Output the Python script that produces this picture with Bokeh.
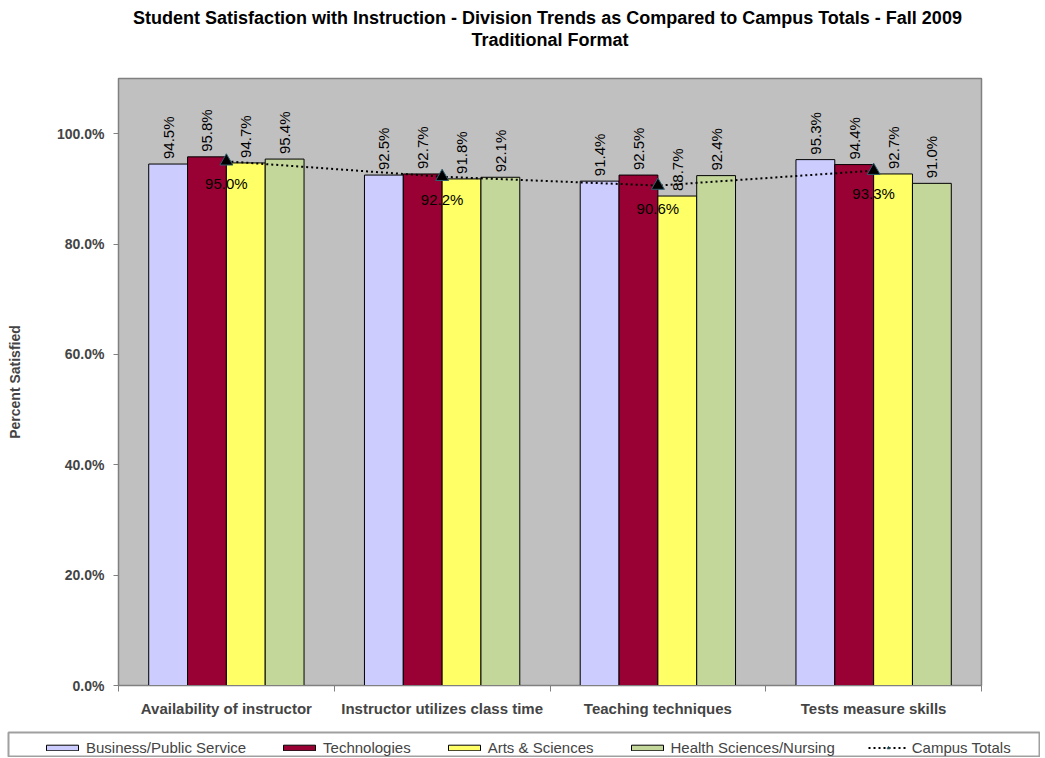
import math
from bokeh.plotting import figure
from bokeh.layouts import column
from bokeh.models import (ColumnDataSource, Range1d, FixedTicker, PrintfTickFormatter,
                          LabelSet, Label, Legend, LegendItem)
from bokeh.core.properties import value
from bokeh.embed import file_html
from bokeh.resources import INLINE

# ---------------- data ----------------
categories = ["Availability of instructor", "Instructor utilizes class time",
              "Teaching techniques", "Tests measure skills"]
series_names = ["Business/Public Service", "Technologies", "Arts & Sciences",
                "Health Sciences/Nursing"]
business = [94.5, 92.5, 91.4, 95.3]
technologies = [95.8, 92.7, 92.5, 94.4]
arts = [94.7, 91.8, 88.7, 92.7]
health = [95.4, 92.1, 92.4, 91.0]
campus = [95.0, 92.2, 90.6, 93.3]
campus_name = "Campus Totals"
y_ticks = [0, 20, 40, 60, 80, 100]
colors = ["#CCCCFF", "#990033", "#FFFF66", "#C4D79B"]
title_line1 = ("Student Satisfaction with Instruction - Division Trends  as Compared to "
               "Campus Totals - Fall 2009")
title_line2 = "Traditional Format"

FONT = "Liberation Sans"
W = 1040

# ---------------- title strip ----------------
ft = figure(width=W, height=60, x_range=Range1d(0, 1), y_range=Range1d(0, 1),
            output_backend="svg", toolbar_location=None, title=None,
            x_axis_location=None, y_axis_location=None, min_border=0)
ft.frame_align = False
ft.outline_line_color = None
ft.background_fill_color = "white"
ft.border_fill_color = "white"
ft.xgrid.visible = False
ft.ygrid.visible = False
for txt, yy in [(title_line1, 43), (title_line2, 21)]:
    ft.add_layout(Label(x=549.5, y=yy, x_units="screen", y_units="screen", text=txt,
                        text_align="center", text_baseline="middle", text_font=FONT,
                        text_font_size="18px", text_font_style="bold", text_color="black"))

# ---------------- main chart ----------------
p = figure(width=W, height=665, x_range=Range1d(0, 4), y_range=Range1d(0, 110),
           output_backend="svg", toolbar_location=None, title=None,
           min_border_left=118, min_border_right=59, min_border_top=18, min_border_bottom=40)
p.frame_align = False

p.background_fill_color = "#C0C0C0"
p.border_fill_color = "white"
p.outline_line_color = "#808080"
p.outline_line_width = 1.5
p.xgrid.visible = False
p.ygrid.visible = False

centers = [i + 0.5 for i in range(len(categories))]
all_series = [business, technologies, arts, health]
offsets = [-0.27, -0.09, 0.09, 0.27]
bar_w = 0.18

sources = []
for vals, col, off in zip(all_series, colors, offsets):
    src = ColumnDataSource(dict(x=[c + off for c in centers], top=vals,
                                lab=["%.1f%%" % v for v in vals]))
    p.vbar(x="x", top="top", width=bar_w, source=src, fill_color=col,
           line_color="black", line_width=1)
    sources.append(src)

for src in sources:
    p.add_layout(LabelSet(x="x", y="top", text="lab", source=src, angle=math.pi / 2,
                          text_align="left", text_baseline="middle", y_offset=5,
                          text_font=value(FONT), text_font_size="15px", text_color="black"))

csrc = ColumnDataSource(dict(x=centers, y=campus, lab=["%.1f%%" % v for v in campus]))
p.line("x", "y", source=csrc, line_color="black", line_width=2, line_dash="2 3")
p.scatter("x", "y", source=csrc, marker="triangle", size=13, fill_color="black",
          line_color="#2F5F6F", line_width=1)
p.add_layout(LabelSet(x="x", y="y", text="lab", source=csrc, text_align="center",
                      text_baseline="top", y_offset=-14, text_font=value(FONT),
                      text_font_size="15px", text_color="black"))

# y axis
p.yaxis.ticker = FixedTicker(ticks=y_ticks)
p.yaxis.formatter = PrintfTickFormatter(format="%.1f%%")
p.yaxis.axis_label = "Percent Satisfied"
p.yaxis.axis_label_text_font = FONT
p.yaxis.axis_label_text_font_size = "14px"
p.yaxis.axis_label_text_font_style = "bold"
p.yaxis.axis_label_standoff = 31
p.yaxis.major_label_text_font = FONT
p.yaxis.major_label_text_font_size = "14px"
p.yaxis.major_label_text_font_style = "bold"
p.yaxis.major_label_standoff = 9
p.yaxis.axis_line_color = "#808080"
p.yaxis.major_tick_line_color = "#808080"
p.yaxis.major_tick_in = 0
p.yaxis.major_tick_out = 5
p.yaxis.minor_tick_line_color = None

# x axis
p.xaxis.ticker = FixedTicker(ticks=centers, minor_ticks=list(range(len(categories) + 1)))
p.xaxis.major_label_overrides = {c: lab for c, lab in zip(centers, categories)}
p.xaxis.major_label_text_font = FONT
p.xaxis.major_label_text_font_size = "15px"
p.xaxis.major_label_text_font_style = "bold"
p.xaxis.major_label_standoff = 8
p.xaxis.axis_line_color = "#808080"
p.xaxis.major_tick_line_color = None
p.xaxis.minor_tick_line_color = "#808080"
p.xaxis.minor_tick_in = 0
p.xaxis.minor_tick_out = 6

# ---------------- legend strip (its frame outline is the legend box) ----------------
fl = figure(width=W, height=32, x_range=Range1d(0, 4), y_range=Range1d(0, 110),
            output_backend="svg", toolbar_location=None, title=None,
            x_axis_location=None, y_axis_location=None,
            min_border_left=8, min_border_right=1, min_border_top=7, min_border_bottom=1)
fl.frame_align = False
fl.outline_line_color = "#A0A0A0"
fl.outline_line_width = 2
fl.background_fill_color = "white"
fl.border_fill_color = "white"
fl.xgrid.visible = False
fl.ygrid.visible = False

items = []
for src, name, col in zip(sources, series_names, colors):
    r = fl.vbar(x="x", top="top", width=bar_w, source=src, fill_color=col,
                line_color="black", line_width=1, visible=False)
    items.append(LegendItem(label=name, renderers=[r]))
lr = fl.line("x", "y", source=csrc, line_color="black", line_width=2, line_dash="2 3",
             visible=False)
mr = fl.scatter("x", "y", source=csrc, marker="triangle", size=10, fill_color="black",
                line_color="#2F5F6F", line_width=1, visible=False)
items.append(LegendItem(label=campus_name, renderers=[lr, mr]))

legend = Legend(items=items, orientation="horizontal", location=(34, 0),
                glyph_width=40, glyph_height=7, label_standoff=4, spacing=33, padding=3,
                label_text_font=FONT, label_text_font_size="15px",
                border_line_color=None, background_fill_alpha=0.0, margin=0)
fl.add_layout(legend, "center")

layout = column(ft, p, fl, spacing=0)
open("out.html", "w").write(file_html(layout, INLINE))
